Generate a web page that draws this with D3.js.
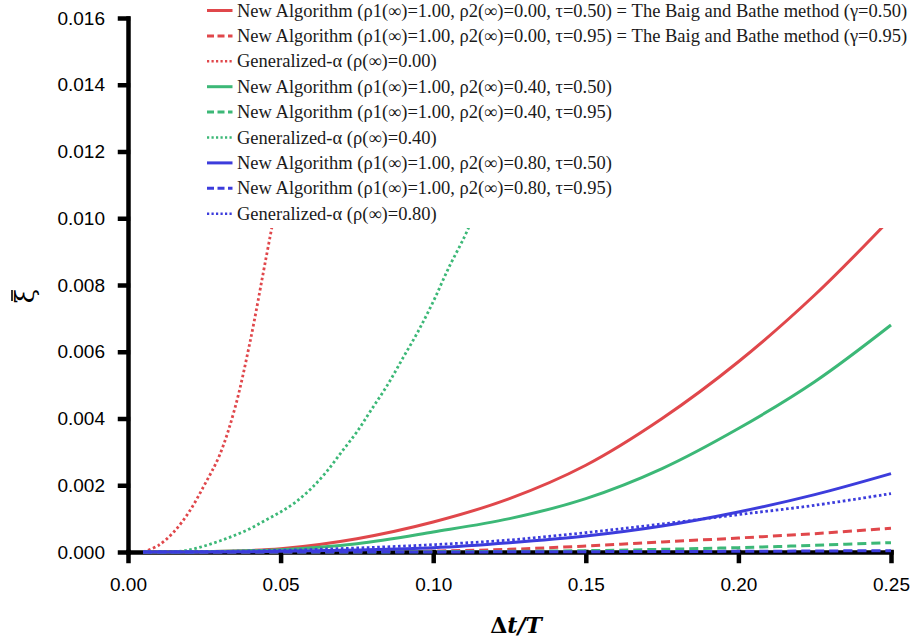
<!DOCTYPE html>
<html>
<head>
<meta charset="utf-8">
<script src="https://cdn.jsdelivr.net/npm/d3@7"></script>
<style>
  body { margin: 0; background: #fff; }
  svg { display: block; }
  .axis path, .axis line { stroke: #000; stroke-width: 4.5; stroke-linecap: square; }
  .axis text { font-family: "Liberation Sans", Arial, sans-serif; font-size: 19px; fill: #000; }
  .legend text { font-family: "Liberation Serif", "Times New Roman", serif; font-size: 18.5px; fill: #1a1a1a; }
</style>
</head>
<body>
<div class="app"></div>
<script>
'use strict'

// Общая сетка по оси X для кривых нового алгоритма
var dtGrid = [0.005, 0.025, 0.05, 0.075, 0.1, 0.125, 0.15, 0.175, 0.2, 0.225, 0.25];

// Новый алгоритм, tau = 0.50
var naRho0Tau50 = [0, 0.00001, 0.0001, 0.0004, 0.0009, 0.0016, 0.0026, 0.004, 0.0057, 0.0077, 0.01];
var naRho4Tau50 = [0, 0.00001, 0.00007, 0.00025, 0.0006, 0.001, 0.0016, 0.0025, 0.0037, 0.0051, 0.0068];
var naRho8Tau50 = [0, 0, 0.00002, 0.00006, 0.00013, 0.00028, 0.00048, 0.00078, 0.0012, 0.00172, 0.00235];

// Новый алгоритм, tau = 0.95
var naRho0Tau95 = [0, 0, 0.000003, 0.00001, 0.00003, 0.00008, 0.00018, 0.0003, 0.00042, 0.00055, 0.00071];
var naRho4Tau95 = [0, 0, 0, 0, 0.00001, 0.00002, 0.00004, 0.00008, 0.00013, 0.0002, 0.00028];
var naRho8Tau95 = [0, 0, 0, 0, 0, 0.000005, 0.00001, 0.000015, 0.00002, 0.00003, 0.00004];

// Generalized-alpha
var gaRho0Dt = [0.005, 0.01, 0.015, 0.02, 0.025, 0.03, 0.035, 0.04, 0.045, 0.0475];
var gaRho0 = [0, 0.0002, 0.0006, 0.0012, 0.002, 0.0029, 0.0043, 0.0063, 0.0087, 0.0099];
var gaRho4Dt = [0.015, 0.02, 0.025, 0.03, 0.035, 0.04, 0.045, 0.05, 0.055, 0.06, 0.065, 0.07, 0.075, 0.08, 0.085, 0.09, 0.095, 0.1, 0.105, 0.11, 0.112];
var gaRho4 = [0, 0.00006, 0.00018, 0.00033, 0.0005, 0.0007, 0.00095, 0.0012, 0.0015, 0.0019, 0.0024, 0.003, 0.0036, 0.0043, 0.005, 0.0058, 0.0066, 0.0075, 0.0085, 0.0094, 0.0098];
var gaRho8 = [0, 0.00001, 0.00005, 0.00012, 0.00022, 0.00036, 0.00058, 0.00084, 0.00112, 0.0014, 0.00175];

// Подписи легенды
var legendLabels = [
  "New Algorithm (ρ1(∞)=1.00, ρ2(∞)=0.00, τ=0.50) = The Baig and Bathe method (γ=0.50)",
  "New Algorithm (ρ1(∞)=1.00, ρ2(∞)=0.00, τ=0.95) = The Baig and Bathe method (γ=0.95)",
  "Generalized-α (ρ(∞)=0.00)",
  "New Algorithm (ρ1(∞)=1.00, ρ2(∞)=0.40, τ=0.50)",
  "New Algorithm (ρ1(∞)=1.00, ρ2(∞)=0.40, τ=0.95)",
  "Generalized-α (ρ(∞)=0.40)",
  "New Algorithm (ρ1(∞)=1.00, ρ2(∞)=0.80, τ=0.50)",
  "New Algorithm (ρ1(∞)=1.00, ρ2(∞)=0.80, τ=0.95)",
  "Generalized-α (ρ(∞)=0.80)"
];

var xTicks = [0, 0.05, 0.1, 0.15, 0.2, 0.25];
var yTicks = [0, 0.002, 0.004, 0.006, 0.008, 0.01, 0.012, 0.014, 0.016];

var red = "#e0474b";
var green = "#3cb877";
var blue = "#3c3cdc";

var dashStyles = {
  solid: null,
  dashed: "9,5",
  dotted: "2.6,2.6"
};

var legendDash = {
  solid: null,
  dashed: "7,3.5",
  dotted: "2.2,2.3"
};

function zip(xs, ys) {
  return xs.map(function(x, i) { return { dt: x, xi: ys[i] }; });
}

var series = [
  { values: zip(dtGrid, naRho0Tau50), color: red, style: "solid" },
  { values: zip(dtGrid, naRho0Tau95), color: red, style: "dashed" },
  { values: zip(gaRho0Dt, gaRho0), color: red, style: "dotted" },
  { values: zip(dtGrid, naRho4Tau50), color: green, style: "solid" },
  { values: zip(dtGrid, naRho4Tau95), color: green, style: "dashed" },
  { values: zip(gaRho4Dt, gaRho4), color: green, style: "dotted" },
  { values: zip(dtGrid, naRho8Tau50), color: blue, style: "solid" },
  { values: zip(dtGrid, naRho8Tau95), color: blue, style: "dashed" },
  { values: zip(dtGrid, gaRho8), color: blue, style: "dotted" }
];

var width = 919;
var height = 641;

var svg = d3.select(".app")
            .append("svg")
            .attr("width", width)
            .attr("height", height)
;

// Масштабы
var x = d3.scaleLinear().domain([0, 0.25]).range([128, 891]);
var y = d3.scaleLinear().domain([0, 0.016]).range([552, 18]);

// Ось X
var xAxis = d3.axisBottom(x).tickValues(xTicks).tickFormat(d3.format(".2f"))
              .tickSizeInner(9).tickSizeOuter(0).tickPadding(17);
svg.append("g")
   .attr("class", "axis x-axis")
   .attr("transform", "translate(0," + y(0) + ")")
   .call(xAxis)
;

// Ось Y
var yAxis = d3.axisLeft(y).tickValues(yTicks).tickFormat(d3.format(".3f"))
              .tickSizeInner(8).tickSizeOuter(0).tickPadding(15);
svg.append("g")
   .attr("class", "axis y-axis")
   .attr("transform", "translate(" + x(0) + ",0)")
   .call(yAxis)
;

// Кривые
var line = d3.line()
  .curve(d3.curveCatmullRom.alpha(0.5))
  .x(function(d) { return x(d.dt); })
  .y(function(d) { return y(Math.max(0, d.xi)); })
;

svg.append("g")
   .attr("class", "curves")
   .selectAll("path")
   .data(series)
   .join("path")
   .attr("d", function(d) { return line(d.values); })
   .attr("fill", "none")
   .attr("stroke", function(d) { return d.color; })
   .attr("stroke-width", function(d) { return d.style === "dotted" ? 2.8 : 3; })
   .attr("stroke-dasharray", function(d) { return dashStyles[d.style]; })
;

// Легенда с белым фоном поверх кривых
var legend = svg.append("g").attr("class", "legend");

legend.append("rect")
      .attr("x", 196)
      .attr("y", 0)
      .attr("width", width - 196)
      .attr("height", 228)
      .attr("fill", "#fff")
;

var rowStep = 25.4;
var rows = legend.selectAll("g.row")
                 .data(series)
                 .join("g")
                 .attr("class", "row")
                 .attr("transform", function(d, i) { return "translate(207," + (10.5 + i * rowStep) + ")"; })
;

rows.append("line")
    .attr("x1", 0)
    .attr("x2", 25.5)
    .attr("y1", 0)
    .attr("y2", 0)
    .attr("stroke", function(d) { return d.color; })
    .attr("stroke-width", function(d) { return d.style === "dotted" ? 2.4 : 3; })
    .attr("stroke-dasharray", function(d) { return legendDash[d.style]; })
;

rows.append("text")
    .attr("x", 30)
    .attr("y", 6)
    .text(function(d, i) { return legendLabels[i]; })
;

// Подпись оси Y: кси с чертой
var yLabel = svg.append("g").attr("transform", "translate(34,296) rotate(-90)");
yLabel.append("text")
      .attr("text-anchor", "middle")
      .style("font-family", "'DejaVu Serif', serif")
      .style("font-size", "26px")
      .text("ξ")
;
yLabel.append("line")
      .attr("x1", -5)
      .attr("x2", 6)
      .attr("y1", -22)
      .attr("y2", -22)
      .attr("stroke", "#000")
      .attr("stroke-width", 1.6)
;

var xLabel = svg.append("text")
   .attr("x", 516)
   .attr("y", 633)
   .attr("text-anchor", "middle")
   .style("font-family", "'DejaVu Serif', serif")
   .style("font-size", "22px")
   .style("font-weight", "bold")
;
xLabel.append("tspan").text("Δ");
xLabel.append("tspan").style("font-style", "italic").text("t/T");
</script>
</body>
</html>
